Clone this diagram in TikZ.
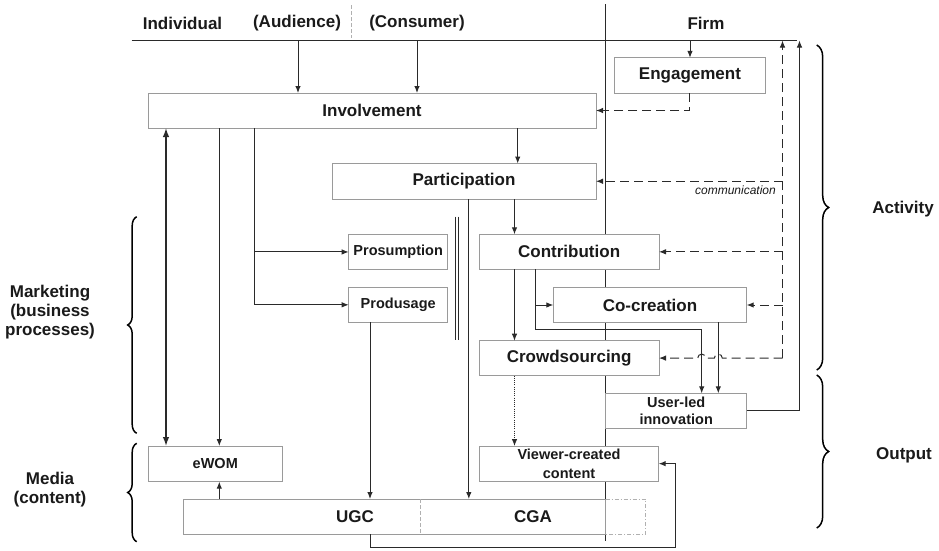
\documentclass[tikz,border=0pt]{standalone}
\usepackage{fontspec}
\setmainfont{Liberation Sans}
\usetikzlibrary{arrows.meta,decorations.pathreplacing,calc}
\definecolor{txt}{HTML}{1A1A1A}
\definecolor{lnc}{HTML}{2A2A2A}
\definecolor{boxc}{HTML}{9A9A9A}
\definecolor{gdc}{HTML}{B0B0B0}
\begin{document}
\begin{tikzpicture}[x=1pt,y=-1pt,line join=miter,
  lbl/.style={font=\bfseries\fontsize{17}{19}\selectfont, text=txt, inner sep=0pt, align=center},
  box/.style={draw=boxc, fill=white, line width=0.9pt, inner sep=0pt, outer sep=0pt, anchor=north west,
              font=\bfseries\fontsize{17}{19}\selectfont, text=txt, align=center},
  sbox/.style={box, font=\bfseries\fontsize{14.5}{17.5}\selectfont},
  conn/.style={draw=lnc, line width=1pt},
  arr/.style={conn, -{Latex[length=7pt,width=5.5pt]}},
  darr/.style={arr, dash pattern=on 9pt off 5pt},
  dotarr/.style={arr, line width=0.8pt, dash pattern=on 1pt off 1.2pt},
  dblarr/.style={draw=lnc, line width=1.4pt, {Latex[length=9pt,width=6.5pt]}-{Latex[length=9pt,width=6.5pt]}},
  brc/.style={draw=black, line width=1.5pt, decorate, decoration={brace, amplitude=#1}},
  gdash/.style={draw=gdc, line width=0.8pt, dash pattern=on 4pt off 2pt},
  comm/.style={font=\itshape\fontsize{12}{14}\selectfont, text=txt, inner sep=0pt}]

\fill[white] (0,0) rectangle (939,550);
\useasboundingbox (0,0) rectangle (939,550);

% coordinates
\coordinate (tL) at (131.5,40.5);
\coordinate (tR) at (797,40.5);
\coordinate (tA) at (298,40.5);
\coordinate (tC) at (417,40.5);
\coordinate (tF) at (690,40.5);
\coordinate (tD) at (782.5,40.5);
\coordinate (tS) at (799.5,40.5);
\coordinate (fTop) at (605.5,4);
\coordinate (fBot) at (605.5,541);
\coordinate (hd1) at (351,5);
\coordinate (hd2) at (351,38);
\coordinate (X166) at (166,0);
\coordinate (X219) at (219.3,0);
\coordinate (X254) at (254,0);
\coordinate (X370) at (370,0);
\coordinate (X469) at (468.8,0);
\coordinate (X514) at (514.5,0);
\coordinate (X517) at (517.7,0);
\coordinate (X702) at (701.7,0);
\coordinate (X718) at (718.3,0);
\coordinate (X782) at (782.5,0);
\coordinate (c1) at (535.7,329);
\coordinate (c2) at (675.7,547.7);
\coordinate (dl1) at (455,216.7);
\coordinate (dl2) at (455,340);
\coordinate (dl3) at (458.2,216.7);
\coordinate (dl4) at (458.2,340);

% header
\node[lbl] (hInd) at (182.5,23) {Individual};
\node[lbl] (hAud) at (297,23) {(Audience)};
\node[lbl] (hCon) at (417,23) {(Consumer)};
\node[lbl] (hFirm) at (706,23) {Firm};
\draw[gdash] (hd1) -- (hd2);
\draw[conn] (tL) -- (tR);
\draw[conn] (fTop) -- (fBot);

% side labels
\node[lbl] (lMkt) at (50,312) {Marketing\\(business\\processes)};
\node[lbl] (lMed) at (50,490) {Media\\(content)};
\node[lbl] (lAct) at (903,209) {Activity};
\node[lbl] (lOut) at (904,455) {Output};

% braces
\draw[brc=9pt] (136.7,433.3) -- (136.7,216.7);
\draw[brc=9pt] (136.7,541.7) -- (136.7,443.3);
\draw[brc=12pt] (816.7,45) -- (816.7,370);
\draw[brc=12pt] (816.7,375) -- (816.7,528);

% boxes
\node[box, minimum width=448pt, minimum height=35pt] (inv) at (148,93) {Involvement};
\node[box, minimum width=151.5pt, minimum height=35.5pt] (eng) at (614.2,57.8) {Engagement};
\node[box, minimum width=264pt, minimum height=35.5pt] (part) at (332,163.5) {Participation};
\node[sbox, minimum width=99pt, minimum height=35.3pt] (prosum) at (348.7,234.3) {Prosumption};
\node[sbox, minimum width=99pt, minimum height=35pt] (produs) at (348.7,287.3) {Produsage};
\node[box, minimum width=179.7pt, minimum height=35pt] (contr) at (479.3,234.3) {Contribution};
\node[box, minimum width=193.4pt, minimum height=34.6pt] (cocr) at (553.3,287.7) {Co-creation};
\node[box, minimum width=179.7pt, minimum height=34.8pt] (crowd) at (479.3,340.7) {Crowdsourcing};
\node[sbox, minimum width=141pt, minimum height=35pt, font=\bfseries\fontsize{14.5}{17.6}\selectfont] (uli) at (605.7,393.3) {User-led\\innovation};
\node[sbox, minimum width=134pt, minimum height=35.7pt] (ewom) at (148.3,446) {eWOM};
\node[sbox, minimum width=179.4pt, minimum height=35.3pt, font=\bfseries\fontsize{14.5}{19.4}\selectfont] (vcc) at (479.3,446) {Viewer-created\\content};
\node[draw=boxc, line width=0.9pt, inner sep=0pt, outer sep=0pt, anchor=north west, minimum width=422.4pt, minimum height=35.3pt] (ugcbox) at (183.3,499) {};
\coordinate (ud1) at (420,499);
\coordinate (ud2) at (420,534.3);
\draw[gdash] (ud1) -- (ud2);
\draw[gdash, dash pattern=on 4pt off 2pt on 1pt off 2pt] (ugcbox.north east) -- ++(40,0) |- (ugcbox.south east);
\node[lbl] (ugct) at (355,517) {UGC};
\node[lbl] (cgat) at (533,517) {CGA};

% double line
\draw[conn, line width=0.8pt] (dl1) -- (dl2);
\draw[conn, line width=0.8pt] (dl3) -- (dl4);

% connectors
\draw[arr] (tA) -- (tA |- inv.north);
\draw[arr] (tC) -- (tC |- inv.north);
\draw[arr] (tF) -- (tF |- eng.north);
\draw[darr] (eng.south) |- (inv.east);
\draw[arr] (inv.south -| X517) -- (part.north -| X517);
\draw[arr] (part.south -| X514) -- (contr.north -| X514);
\draw[arr] (contr.south -| X514) -- (crowd.north -| X514);
\draw[dotarr] (crowd.south -| X514) -- (vcc.north -| X514);
\draw[arr] (contr.south -| c1) |- (cocr.west);
\draw[arr] (contr.south -| c1) -- (c1) -| (uli.north -| X702);
\draw[arr] (cocr.south -| X718) -- (uli.north -| X718);
\draw[arr] (uli.east) -| (tS);

\draw[darr] (X782 |- crowd.east) -- (tD);
\draw[darr] (X782 |- part.east) -- (part.east);
\draw[darr] (X782 |- contr.east) -- (contr.east);
\draw[darr] (X782 |- cocr.east) -- (cocr.east);
\draw[darr] (X782 |- crowd.east) -- ($(X718 |- crowd.east)+(4,0)$)
   arc[start angle=0,end angle=180,radius=4pt] -- ($(X702 |- crowd.east)+(4,0)$)
   arc[start angle=0,end angle=180,radius=4pt] -- (crowd.east);
\node[comm, anchor=east] (commlbl) at (776,190) {communication};

\draw[dblarr] (inv.south -| X166) -- (ewom.north -| X166);
\draw[arr] (inv.south -| X219) -- (ewom.north -| X219);
\draw[arr] (inv.south -| X254) |- (prosum.west);
\draw[arr] (inv.south -| X254) |- (produs.west);
\draw[arr] (produs.south -| X370) -- (ugcbox.north -| X370);
\draw[arr] (part.south -| X469) -- (ugcbox.north -| X469);
\draw[arr] (ugcbox.north -| X219) -- (ewom.south -| X219);
\draw[arr] (ugcbox.south -| X370) |- (c2) |- (vcc.east);

\end{tikzpicture}
\end{document}
